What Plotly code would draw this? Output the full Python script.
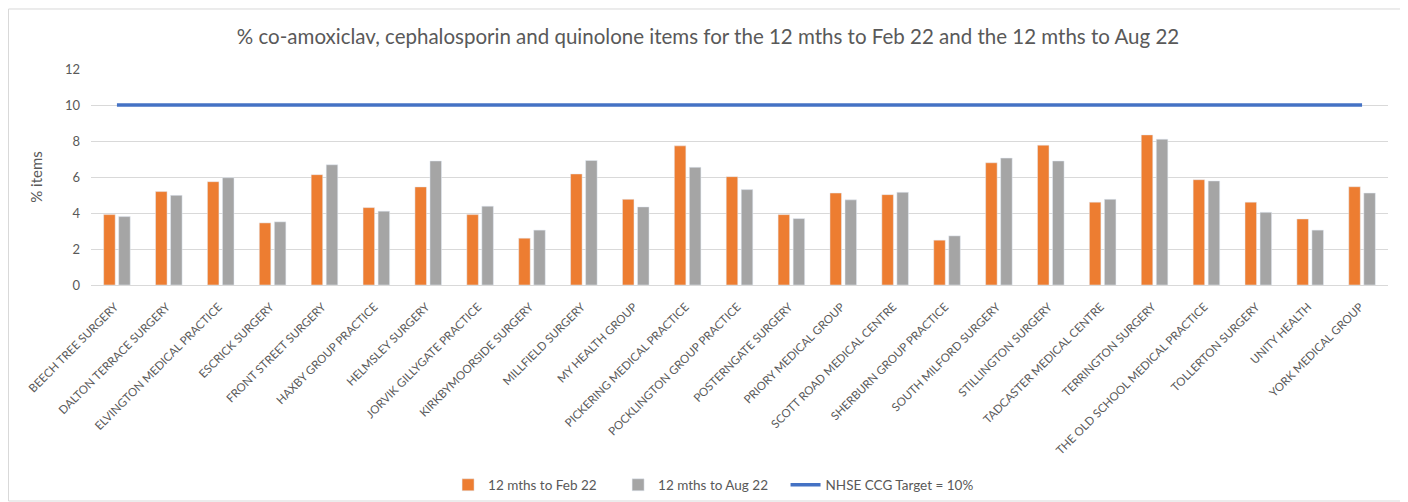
import plotly.graph_objects as go

practices = [
    "BEECH TREE SURGERY", "DALTON TERRACE SURGERY", "ELVINGTON MEDICAL PRACTICE",
    "ESCRICK SURGERY", "FRONT STREET SURGERY", "HAXBY GROUP PRACTICE",
    "HELMSLEY SURGERY", "JORVIK GILLYGATE PRACTICE", "KIRKBYMOORSIDE SURGERY",
    "MILLFIELD SURGERY", "MY HEALTH GROUP", "PICKERING MEDICAL PRACTICE",
    "POCKLINGTON GROUP PRACTICE", "POSTERNGATE SURGERY", "PRIORY MEDICAL GROUP",
    "SCOTT ROAD MEDICAL CENTRE", "SHERBURN GROUP PRACTICE", "SOUTH MILFORD SURGERY",
    "STILLINGTON SURGERY", "TADCASTER MEDICAL CENTRE", "TERRINGTON SURGERY",
    "THE OLD SCHOOL MEDICAL PRACTICE", "TOLLERTON SURGERY", "UNITY HEALTH",
    "YORK MEDICAL GROUP",
]

feb22 = [3.91, 5.19, 5.74, 3.45, 6.13, 4.30, 5.45, 3.91, 2.60, 6.17, 4.76, 7.73,
         6.02, 3.91, 5.11, 5.02, 2.49, 6.79, 7.77, 4.60, 8.34, 5.85, 4.60, 3.67, 5.46]
aug22 = [3.80, 4.98, 5.96, 3.51, 6.68, 4.10, 6.89, 4.38, 3.05, 6.92, 4.34, 6.54,
         5.30, 3.69, 4.73, 5.15, 2.73, 7.05, 6.89, 4.76, 8.10, 5.78, 4.04, 3.05, 5.11]
target = [10] * len(practices)

series_names = ["12 mths to Feb 22", "12 mths to Aug 22", "NHSE CCG Target = 10%"]
title_text = "% co-amoxiclav, cephalosporin and quinolone items for the 12 mths to Feb 22 and the 12 mths to Aug 22"
y_ticks = [0, 2, 4, 6, 8, 10, 12]

FONT = "Lato"
TXT = "#595959"

fig = go.Figure()
fig.add_trace(go.Bar(x=practices, y=feb22, name=series_names[0], marker_color="#ED7D31",
                     legend="legend"))
fig.add_trace(go.Bar(x=practices, y=aug22, name=series_names[1], marker_color="#A5A5A5",
                     legend="legend2"))
fig.add_trace(go.Scatter(x=practices, y=target, name=series_names[2], mode="lines",
                         line=dict(color="#4472C4", width=3.5), legend="legend3"))

leg_common = dict(orientation="h", xanchor="left", y=0.0344, yref="container",
                  yanchor="middle", font=dict(family=FONT, size=13.5, color=TXT),
                  bgcolor="rgba(0,0,0,0)")

fig.update_layout(
    width=1400, height=494,
    margin=dict(l=83, r=20, t=61, b=217, autoexpand=False),
    paper_bgcolor="white", plot_bgcolor="white",
    font=dict(family=FONT, color=TXT, size=12),
    title=dict(text=title_text, x=0.5, xref="container", y=0.9413, yref="container",
               xanchor="center", yanchor="middle",
               font=dict(family=FONT, size=20.5, color=TXT)),
    barmode="group", bargap=0.42, bargroupgap=0.233,
    showlegend=True,
    legend=dict(x=0.2753, **leg_common),
    legend2=dict(x=0.4064, **leg_common),
    legend3=dict(x=0.5355, **leg_common),
    xaxis=dict(tickangle=-45, showgrid=False, showline=False, ticks="", automargin=False,
               ticklabelstandoff=12, ticklabelshift=-2,
               tickfont=dict(family=FONT, size=11.5, color=TXT)),
    yaxis=dict(range=[0, 12], tickvals=y_ticks, showgrid=True, gridcolor="#D9D9D9",
               gridwidth=1, zeroline=True, zerolinecolor="#D9D9D9", zerolinewidth=1,
               ticks="", ticklabelstandoff=10, automargin=False,
               tickfont=dict(family=FONT, size=13, color=TXT),
               title=dict(text="% items", font=dict(family=FONT, size=15, color=TXT),
                          standoff=18)),
    shapes=[dict(type="rect", xref="paper", yref="paper",
                 x0=-0.0636, x1=1.0131, y0=-1.0, y1=1.2778,
                 line=dict(color="#D9D9D9", width=1), fillcolor="rgba(0,0,0,0)", layer="below")],
)

fig.write_html("out.html")
